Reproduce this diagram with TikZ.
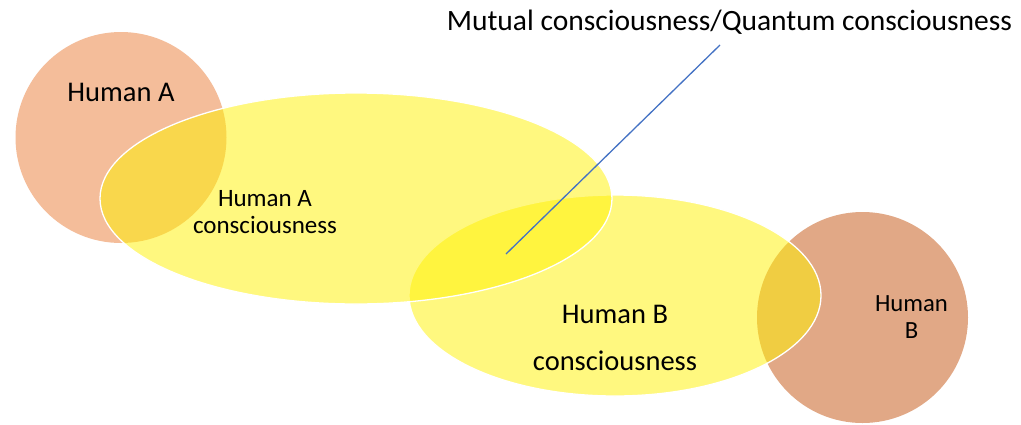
\documentclass[tikz,border=0pt]{standalone}
\usepackage{fontspec}
\setmainfont{Carlito}
\definecolor{humanA}{HTML}{F4BD9A}
\definecolor{humanB}{HTML}{E1A886}
\definecolor{lineblue}{HTML}{4472C4}
\tikzset{
  blob/.style={fill=yellow, fill opacity=0.5, draw=white, draw opacity=1, line width=1.3pt},
  lbl/.style={inner sep=0pt, outer sep=0pt, anchor=base, text=black},
}
\begin{document}
\begin{tikzpicture}[x=1pt,y=-1pt]
\useasboundingbox[fill=white] (0,0) rectangle (1021,424);
% circles
\fill[humanA] (121,137.5) circle (105.5);
\fill[humanB] (862.5,317.5) circle (105.5);
% consciousness ellipses (B below A)
\path[blob] (615,295.5) ellipse [x radius=206, y radius=100.5];
\path[blob] (356,198.5) ellipse [x radius=256, y radius=105.5];
% connector
\coordinate (mutual) at (506,254);
\coordinate (tip) at (720,45);
\draw[lineblue, line width=1.3pt] (mutual) -- (tip);
% labels
\node[lbl, font=\fontsize{29.5}{30}\selectfont] (title) at (729.5,30) {Mutual consciousness/Quantum consciousness};
\node[lbl, font=\fontsize{28.5}{30}\selectfont] (hA) at (121,101) {Human A};
\node[lbl, font=\fontsize{25}{27}\selectfont] (aconsc1) at (265,206) {Human A};
\node[lbl, font=\fontsize{25}{27}\selectfont] (aconsc2) at (265,233) {consciousness};
\node[lbl, font=\fontsize{28.5}{30}\selectfont] (bconsc1) at (615,323) {Human B};
\node[lbl, font=\fontsize{28.5}{30}\selectfont] (bconsc2) at (615,370) {consciousness};
\node[lbl, font=\fontsize{24.7}{27}\selectfont] (hB1) at (911.5,311) {Human};
\node[lbl, font=\fontsize{24.7}{27}\selectfont] (hB2) at (911.5,338) {B};
\end{tikzpicture}
\end{document}
